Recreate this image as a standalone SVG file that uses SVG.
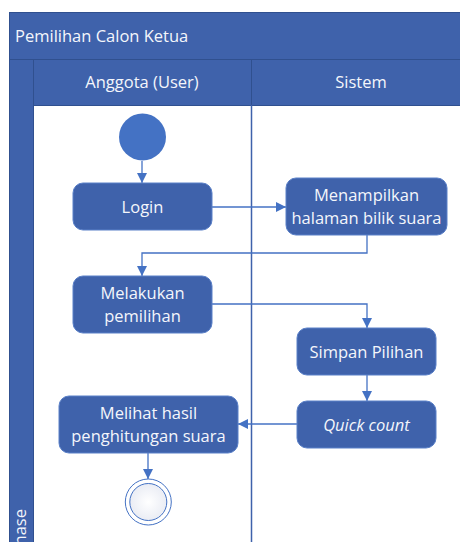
<svg xmlns="http://www.w3.org/2000/svg" width="460" height="542" viewBox="0 0 460 542">
  <style>
    .band { fill: #3f62ab; stroke: #30508f; stroke-width: 1; }
    .lane { stroke: #3f62ab; stroke-width: 1.5; fill: none; }
    .act { fill: #3f62ab; stroke: #5a80c8; stroke-width: 1; }
    .lbl { font-family: "Open Sans", "Noto Sans", sans-serif; font-size: 16.5px; fill: #f4f6fb; text-anchor: middle; }
    .hdr { font-family: "Open Sans", "Noto Sans", sans-serif; font-size: 16.5px; fill: #f4f6fb; }
    .flow { stroke: #4472c4; stroke-width: 1.3; fill: none; marker-end: url(#arrow); }
  </style>
  <defs>
    <marker id="arrow" viewBox="0 0 10 10" refX="10" refY="5" markerWidth="10" markerHeight="10" markerUnits="userSpaceOnUse" orient="auto">
      <path d="M0,0 L10,5 L0,10 z" fill="#4472c4"/>
    </marker>
    <radialGradient id="endFill" cx="0.5" cy="0.5" r="0.6">
      <stop offset="0" stop-color="#ffffff"/>
      <stop offset="1" stop-color="#e6e9f2"/>
    </radialGradient>
  </defs>

  <rect width="460" height="542" fill="#ffffff"/>

  <!-- pool frame with lane headers -->
  <g id="pool">
    <rect class="band" x="9.5" y="12.5" width="452" height="47"/>
    <text class="hdr" x="15" y="42">Pemilihan Calon Ketua</text>
    <rect class="band" x="9.5" y="59.5" width="24" height="490"/>
    <rect class="band" x="33.5" y="59.5" width="218" height="46"/>
    <rect class="band" x="251.5" y="59.5" width="210" height="46"/>
    <text class="lbl" x="142" y="88">Anggota (User)</text>
    <text class="lbl" x="361" y="88">Sistem</text>
    <text class="hdr" font-size="13" transform="translate(26,509) rotate(-90)" text-anchor="end">Phase</text>
    <line class="lane" x1="251.5" y1="105" x2="251.5" y2="542"/>
  </g>

  <!-- control flows -->
  <g id="connectors">
    <path class="flow" d="M142,161 V183"/>
    <path class="flow" d="M212,207 H286"/>
    <path class="flow" d="M367,235 V253 H142 V276"/>
    <path class="flow" d="M212,304 H367 V328"/>
    <path class="flow" d="M367,375 V401"/>
    <path class="flow" d="M297,424 H238"/>
    <path class="flow" d="M148,453 V479"/>
  </g>

  <g id="start">
    <circle cx="142.5" cy="137" r="23.5" fill="#4472c4"/>
  </g>

  <g id="login">
    <rect class="act" x="73" y="183" width="139" height="47" rx="10"/>
    <text class="lbl" x="142.5" y="213">Login</text>
  </g>

  <g id="menampilkan">
    <rect class="act" x="286" y="178" width="161" height="57" rx="10"/>
    <text class="lbl" x="366.5" y="201">Menampilkan</text>
    <text class="lbl" x="366.5" y="224">halaman bilik suara</text>
  </g>

  <g id="melakukan">
    <rect class="act" x="73" y="276" width="139" height="57" rx="10"/>
    <text class="lbl" x="142.5" y="299">Melakukan</text>
    <text class="lbl" x="142.5" y="322">pemilihan</text>
  </g>

  <g id="simpan">
    <rect class="act" x="297" y="328" width="139" height="47" rx="10"/>
    <text class="lbl" x="366.5" y="358">Simpan Pilihan</text>
  </g>

  <g id="quickcount">
    <rect class="act" x="297" y="401" width="139" height="47" rx="10"/>
    <text class="lbl" x="366.5" y="431" font-style="italic">Quick count</text>
  </g>

  <g id="melihat">
    <rect class="act" x="59" y="396" width="179" height="57" rx="10"/>
    <text class="lbl" x="148.5" y="419">Melihat hasil</text>
    <text class="lbl" x="148.5" y="442">penghitungan suara</text>
  </g>

  <g id="end">
    <circle cx="148.3" cy="502" r="23" fill="#ffffff" stroke="#4472c4" stroke-width="1"/>
    <circle cx="148.3" cy="502" r="18.5" fill="url(#endFill)" stroke="#4472c4" stroke-width="1"/>
  </g>
</svg>
